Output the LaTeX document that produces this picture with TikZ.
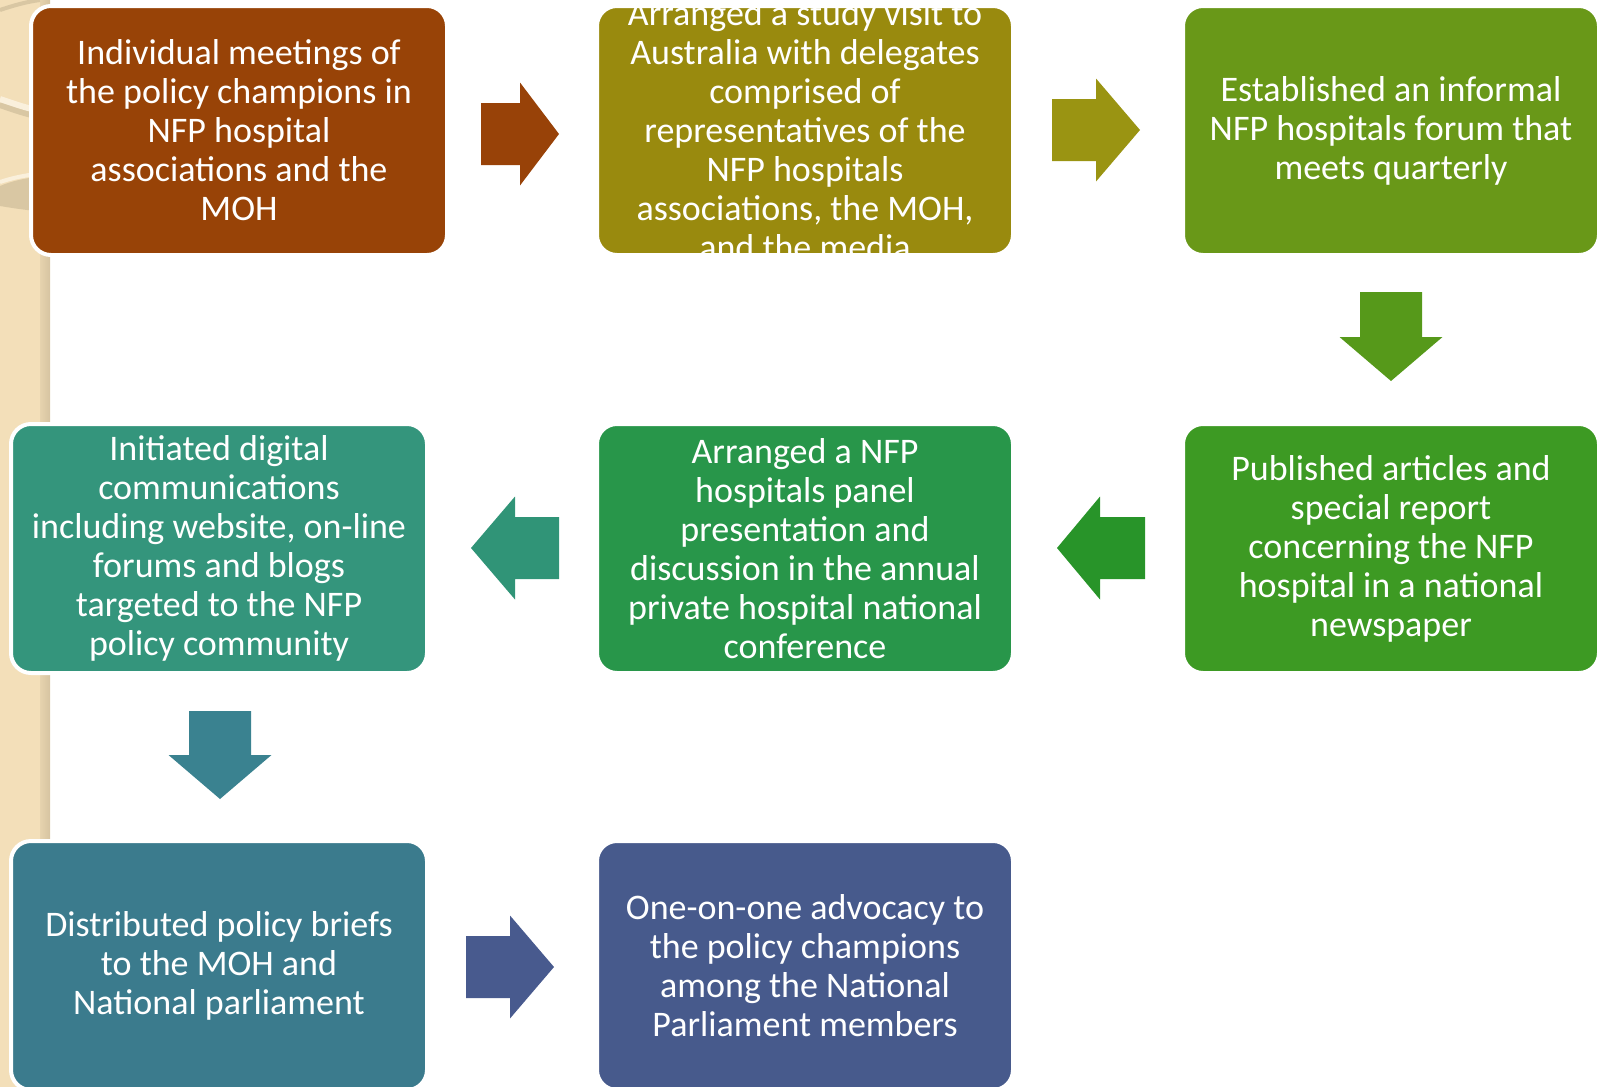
\documentclass[tikz,border=0pt]{standalone}
\usepackage{fontspec}
\setmainfont{Carlito}
\definecolor{cA}{HTML}{984307}
\definecolor{aA}{HTML}{984208}
\definecolor{cB}{HTML}{998A0E}
\definecolor{aB}{HTML}{9A9412}
\definecolor{cC}{HTML}{699818}
\definecolor{dA}{HTML}{56991A}
\definecolor{cF}{HTML}{3D9A23}
\definecolor{lA}{HTML}{289429}
\definecolor{cE}{HTML}{28964A}
\definecolor{lB}{HTML}{309477}
\definecolor{cD}{HTML}{34957C}
\definecolor{dB}{HTML}{3A8290}
\definecolor{cG}{HTML}{3B7B8D}
\definecolor{aC}{HTML}{485A8E}
\definecolor{cH}{HTML}{475A8C}
\definecolor{beigeA}{HTML}{F3DFB9}
\definecolor{beigeB}{HTML}{E6D3AE}
\definecolor{tanA}{HTML}{D6C4A1}
\definecolor{arcL}{HTML}{FAF0DC}
\definecolor{arcD}{HTML}{D9C7A3}
\newcommand\blockR[5]{\fill[#1] (#2,#5-31) -- (#3,#5-31) -- (#3,#5-51.5) -- (#4,#5) -- (#3,#5+51.5) -- (#3,#5+31) -- (#2,#5+31) -- cycle;}
\newcommand\blockD[5]{\fill[#1] (#5-31,#2) -- (#5+31,#2) -- (#5+31,#3) -- (#5+51.5,#3) -- (#5,#4) -- (#5-51.5,#3) -- (#5-31,#3) -- cycle;}
\begin{document}
\begin{tikzpicture}[x=0.5pt,y=-0.5pt,
  box/.style={rectangle, rounded corners=10pt, draw=white, line width=2pt, text=white,
    align=center, font=\fontsize{18}{19.5}\selectfont, minimum width=208pt,
    minimum height=124.5pt, inner sep=0pt, outer sep=0pt, anchor=north west},
  boxtext/.style={text=white, align=center, font=\fontsize{18}{19.5}\selectfont, inner sep=0pt}]
\useasboundingbox (0,0) rectangle (1597,1087);
% left decorative stripe
\fill[beigeA] (0,0) rectangle (42,1087);
\shade[left color=beigeB, right color=tanA] (40,0) rectangle (50,1087);
\draw[arcD, line width=2pt] (0,10) .. controls (12,6) and (25,2) .. (40,0);
\draw[arcD, line width=4pt] (0,104) .. controls (12,108) and (25,113) .. (45,117);
\draw[arcL, line width=3pt] (0,99) .. controls (12,103) and (25,108) .. (45,112);
\fill[arcD] (0,186) .. controls (12,181) and (25,178) .. (45,176) -- (45,212) .. controls (25,210) and (12,208) .. (0,206) -- cycle;
\draw[arcL, line width=2pt] (0,182) .. controls (12,178) and (25,175) .. (45,173);

% boxes
\node[box, fill=cA] (b1) at (31,6) {Individual meetings of\\the policy champions in\\NFP hospital\\associations and the\\MOH};
\node[box, fill=cB] (b2) at (597,6) {};
\begin{scope}
\clip[rounded corners=10pt] (b2.north west) rectangle (b2.south east);
\node[boxtext] (t2) at (b2.center) {Arranged a study visit to\\Australia with delegates\\comprised of\\representatives of the\\NFP hospitals\\associations, the MOH,\\and the media};
\end{scope}
\node[box, fill=cC] (b3) at (1183,6) {Established an informal\\NFP hospitals forum that\\meets quarterly};
\node[box, fill=cD] (b4) at (11,424) {Initiated digital\\communications\\including website, on-line\\forums and blogs\\targeted to the NFP\\policy community};
\node[box, fill=cE] (b5) at (597,424) {Arranged a NFP\\hospitals panel\\presentation and\\discussion in the annual\\private hospital national\\conference};
\node[box, fill=cF] (b6) at (1183,424) {Published articles and\\special report\\concerning the NFP\\hospital in a national\\newspaper};
\node[box, fill=cG] (b7) at (11,841) {Distributed policy briefs\\to the MOH and\\National parliament};
\node[box, fill=cH] (b8) at (597,841) {One-on-one advocacy to\\the policy champions\\among the National\\Parliament members};

% block arrows
\blockR{aA}{481}{520}{559}{134}
\blockR{aB}{1052}{1096}{1140}{130}
\blockD{dA}{292}{337}{381}{1391}
\blockR{lA}{1145}{1100}{1057}{548}
\blockR{lB}{559}{515}{471}{548}
\blockD{dB}{711}{755}{799}{220}
\blockR{aC}{466}{510}{554}{967}
\end{tikzpicture}
\end{document}
